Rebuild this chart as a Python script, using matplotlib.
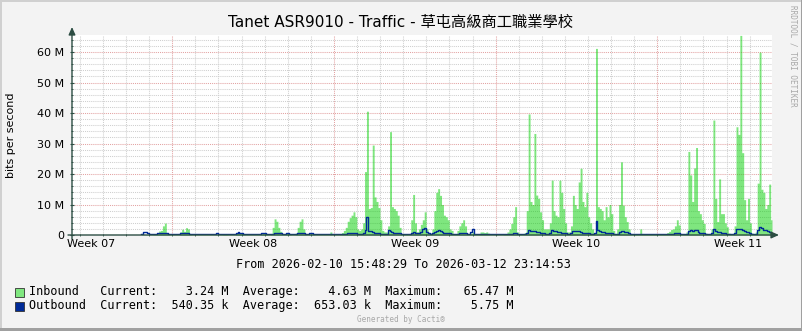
import numpy as np
import matplotlib
matplotlib.use("Agg")
import matplotlib.pyplot as plt
from matplotlib.patches import Rectangle

W, H = 803, 331

title = "Tanet ASR9010 - Traffic - 草屯高級商工職業學校"
period = "From 2026-02-10 15:48:29 To 2026-03-12 23:14:53"
span_hours = 727.41          # length of the window in hours
first_midnight = 8.192       # hours from window start to 2026-02-11 00:00
first_sunday = 104.192       # hours to 2026-02-15 00:00 (week boundary)

# 2-hour averages in Mbit/s, first sample at hour 72, one row per day
start_hour = 72
step_hours = 2
inbound = [
    [0.1, 0.1, 0.1, 0.1, 0.1, 0.1, 0.2, 0.3, 0.8, 1.3, 1.5, 3.0],
    [3.9, 0.6, 0.2, 0.1, 0.1, 0.1, 0.1, 0.1, 1.0, 1.9, 1.2, 2.4],
    [2.0, 0.5, 0.1, 0.1, 0.1, 0.1, 0.1, 0.1, 0.1, 0.1, 0.1, 0.1],
    [0.1, 0.1, 0.1, 0.1, 0.1, 0.1, 0.3, 0.4, 0.3, 0.1, 0.1, 0.1],
    [0.1, 0.5, 0.8, 0.8, 0.5, 0.2, 0.1, 0.1, 0.1, 0.1, 0.1, 0.1],
    [0.1, 0.1, 0.3, 0.5, 0.5, 0.3, 0.1, 0.2, 2.5, 5.3, 4.5, 2.5],
    [1.2, 0.4, 0.2, 0.5, 0.6, 0.3, 0.1, 0.1, 0.6, 2.5, 4.5, 5.3],
    [2.0, 0.5, 0.1, 0.3, 0.4, 0.2, 0.1, 0.1, 0.1, 0.1, 0.1, 0.1],
    [0.1, 0.1, 1.0, 0.1, 0.1, 0.1, 0.1, 0.3, 0.8, 1.5, 2.5, 4.5],
    [5.7, 6.5, 7.6, 6.0, 2.0, 1.5, 2.0, 4.0, 20.8, 40.6, 8.7, 9.0],
    [29.5, 12.5, 11.0, 9.0, 5.0, 1.5, 1.0, 1.0, 3.0, 33.9, 9.3, 8.7],
    [8.0, 6.5, 2.5, 0.5, 0.4, 0.3, 0.3, 0.5, 5.0, 13.3, 4.0, 1.0],
    [2.0, 3.5, 5.0, 7.6, 2.0, 0.8, 0.6, 2.0, 8.0, 14.0, 15.2, 13.0],
    [10.0, 6.5, 6.0, 5.0, 2.0, 1.5, 0.5, 0.4, 1.5, 3.0, 4.0, 5.0],
    [3.0, 0.5, 0.3, 0.6, 1.0, 0.2, 0.1, 0.2, 1.0, 1.0, 0.8, 1.0],
    [0.6, 0.1, 0.1, 0.1, 0.1, 0.1, 0.1, 0.1, 0.2, 0.5, 1.0, 2.0],
    [3.8, 6.0, 9.3, 1.0, 0.3, 0.3, 0.3, 0.8, 8.0, 39.7, 11.0, 10.0],
    [33.3, 13.1, 12.0, 7.6, 5.0, 2.0, 2.0, 2.0, 4.0, 18.0, 8.0, 6.5],
    [6.0, 18.0, 14.0, 8.7, 4.0, 1.0, 1.0, 3.0, 13.0, 10.0, 8.7, 17.4],
    [21.9, 11.0, 9.3, 14.0, 6.0, 4.0, 2.0, 0.5, 61.2, 9.3, 8.7, 8.0],
    [5.0, 9.3, 6.0, 10.0, 7.0, 1.5, 0.5, 2.0, 10.0, 24.0, 9.8, 6.0],
    [4.4, 2.0, 0.5, 0.3, 0.3, 0.3, 0.3, 2.0, 0.5, 0.3, 0.4, 0.3],
    [0.2, 0.2, 0.3, 0.2, 0.2, 0.2, 0.2, 0.2, 0.4, 0.8, 1.2, 1.8],
    [2.0, 3.0, 5.0, 3.3, 0.5, 0.4, 0.4, 1.0, 27.4, 19.7, 11.0, 22.0],
    [28.7, 8.0, 7.0, 5.0, 3.8, 0.6, 0.4, 0.5, 2.0, 37.7, 12.0, 4.4],
    [18.4, 7.0, 7.0, 4.0, 2.7, 0.6, 0.5, 0.5, 3.0, 35.5, 33.0, 65.47],
    [27.0, 11.6, 5.0, 12.0, 4.0, 0.6, 0.5, 1.0, 17.0, 60.0, 15.0, 14.0],
    [8.7, 10.0, 16.7, 5.0],
]
outbound = [
    [0.3, 0.9, 0.9, 0.5, 0.3, 0.3, 0.3, 0.3, 0.5, 0.6, 0.6, 0.7],
    [0.7, 0.5, 0.3, 0.3, 0.3, 0.3, 0.3, 0.3, 0.5, 0.6, 0.6, 0.6],
    [0.6, 0.4, 0.3, 0.3, 0.3, 0.3, 0.3, 0.3, 0.3, 0.3, 0.3, 0.3],
    [0.3, 0.3, 0.3, 0.6, 0.3, 0.3, 0.3, 0.3, 0.3, 0.3, 0.3, 0.3],
    [0.3, 0.7, 0.9, 0.8, 0.5, 0.3, 0.3, 0.3, 0.3, 0.3, 0.3, 0.3],
    [0.3, 0.3, 0.5, 0.7, 0.7, 0.4, 0.3, 0.3, 0.3, 0.5, 0.6, 0.6],
    [0.5, 0.3, 0.3, 0.6, 0.6, 0.3, 0.3, 0.3, 0.3, 0.5, 0.6, 0.7],
    [0.6, 0.4, 0.3, 0.5, 0.6, 0.3, 0.3, 0.3, 0.3, 0.3, 0.3, 0.3],
    [0.3, 0.3, 0.3, 0.3, 0.3, 0.3, 0.3, 0.3, 0.3, 0.4, 0.4, 0.5],
    [0.6, 0.7, 0.8, 0.7, 0.4, 0.4, 0.4, 0.5, 1.5, 5.75, 1.2, 1.2],
    [1.0, 0.8, 0.8, 0.6, 0.4, 0.3, 0.3, 0.4, 1.6, 1.4, 1.0, 0.8],
    [0.7, 0.6, 0.5, 0.4, 0.3, 0.3, 0.3, 0.4, 0.6, 0.9, 0.8, 0.6],
    [0.6, 0.9, 2.0, 2.4, 0.9, 0.5, 0.4, 0.5, 0.9, 1.3, 1.6, 1.2],
    [1.0, 0.8, 0.7, 0.6, 0.5, 0.4, 0.3, 0.3, 0.4, 0.6, 0.7, 0.7],
    [0.6, 0.4, 0.3, 1.0, 1.9, 0.4, 0.3, 0.3, 0.3, 0.3, 0.3, 0.3],
    [0.3, 0.3, 0.3, 0.3, 0.3, 0.3, 0.3, 0.3, 0.3, 0.3, 0.3, 0.3],
    [0.4, 0.5, 0.5, 0.3, 0.3, 0.3, 0.3, 0.3, 0.8, 1.5, 1.4, 1.2],
    [1.2, 1.0, 0.9, 0.8, 0.6, 0.5, 0.4, 0.4, 0.5, 1.5, 1.4, 1.2],
    [1.0, 1.0, 0.8, 0.6, 0.5, 0.4, 0.4, 0.8, 1.2, 1.3, 1.4, 1.2],
    [1.0, 0.8, 0.8, 0.7, 0.5, 0.4, 0.3, 0.5, 4.6, 1.5, 1.2, 1.0],
    [0.9, 0.8, 0.7, 0.6, 0.5, 0.4, 0.3, 0.4, 1.0, 1.3, 1.2, 1.0],
    [0.9, 0.6, 0.4, 0.3, 0.3, 0.3, 0.3, 0.4, 0.3, 0.3, 0.3, 0.3],
    [0.3, 0.3, 0.3, 0.3, 0.3, 0.3, 0.3, 0.3, 0.3, 0.3, 0.3, 0.3],
    [0.4, 0.5, 0.6, 0.5, 0.3, 0.3, 0.3, 0.3, 1.2, 1.6, 1.3, 1.5],
    [1.6, 1.0, 0.8, 0.6, 0.5, 0.3, 0.3, 0.3, 0.8, 2.0, 1.4, 1.0],
    [0.9, 0.8, 0.7, 0.5, 0.4, 0.3, 0.3, 0.3, 0.8, 2.0, 1.9, 2.0],
    [1.8, 1.4, 1.0, 1.0, 0.8, 0.4, 0.3, 0.4, 1.5, 2.6, 2.2, 1.8],
    [1.6, 1.3, 1.0, 0.54],
]

week_labels = ["Week 07", "Week 08", "Week 09", "Week 10", "Week 11"]
in_stats = ["3.24 M", "4.63 M", "65.47 M"]
out_stats = ["540.35 k", "653.03 k", "5.75 M"]

# colours
BG = "#F3F3F3"
AXIS = "#2C4D43"
GRID = "#CFCFCF"
MGRID = "#E3A3A3"
IN_COLOR = "#00CF00"
OUT_COLOR = "#002A97"

plt.rcParams["font.family"] = ["DejaVu Sans", "Noto Sans CJK TC"]

fig = plt.figure(figsize=(W / 100, H / 100), dpi=100, facecolor=BG)
ax = fig.add_axes([72 / W, (H - 235) / H, 700 / W, 200 / H])
ax.set_facecolor("white")

inb = np.concatenate([np.array(r, float) for r in inbound])
outb = np.concatenate([np.array(r, float) for r in outbound])
t = start_hour + step_hours * np.arange(len(inb))
t_edges = np.append(t, span_hours)
inb_e = np.append(inb, inb[-1])
outb_e = np.append(outb, outb[-1])

ymax = 65.6
ax.set_xlim(0, span_hours)
ax.set_ylim(0, ymax)

# grid, rrdtool style dotted lines
dots = (0, (1, 1))
for v in np.arange(2, ymax, 2):
    major = abs(v % 10) < 1e-6
    ax.axhline(v, color=MGRID if major else GRID, lw=0.75, ls=dots, zorder=0)
for h in np.arange(first_midnight, span_hours, 24):
    major = abs((h - first_sunday) % 168) < 1e-6
    ax.axvline(h, color=MGRID if major else GRID, lw=0.75, ls=dots, zorder=0)

ax.fill_between(t_edges, 0, inb_e, step="post", color=IN_COLOR, alpha=0.5,
                lw=0, zorder=2)
ax.plot(t_edges, outb_e, drawstyle="steps-post", color=OUT_COLOR, lw=1.0, zorder=3)

for s in ax.spines.values():
    s.set_visible(False)

# axes with arrows
ax.annotate("", xy=(0, 1 + 8 / 200), xytext=(0, -4 / 200), xycoords="axes fraction",
            arrowprops=dict(arrowstyle="-|>,head_length=0.45,head_width=0.2",
                            color=AXIS, lw=1, shrinkA=0, shrinkB=0), zorder=5)
ax.annotate("", xy=(1 + 7 / 700, 0), xytext=(-4 / 700, 0), xycoords="axes fraction",
            arrowprops=dict(arrowstyle="-|>,head_length=0.45,head_width=0.2",
                            color=AXIS, lw=1, shrinkA=0, shrinkB=0), zorder=5)

# y ticks
yt = np.arange(0, 61, 10)
ax.set_yticks(yt, ["0"] + [f"{v} M" for v in yt[1:]])
ax.set_yticks(np.arange(0, ymax, 2), minor=True)
ax.tick_params(axis="y", which="major", direction="inout", length=3, width=0.8,
               color=AXIS, pad=4.3, labelsize=8)
ax.tick_params(axis="y", which="minor", direction="inout", length=1.5, width=0.6,
               color=AXIS)

# x ticks: labels mid-week, tick marks on day lines
label_pos = first_sunday - 84 + 168 * np.arange(len(week_labels))
ax.set_xticks(label_pos, week_labels)
ax.set_xticks(np.arange(first_midnight, span_hours, 24), minor=True)
ax.tick_params(axis="x", which="major", length=0, pad=3, labelsize=8)
ax.tick_params(axis="x", which="minor", direction="inout", length=2, width=0.6,
               color=AXIS)

fig.text(11 / W, 1 - 135 / H, "bits per second", rotation=90, ha="center",
         va="center", fontsize=8)
fig.text(401 / W, 1 - 22 / H, title, ha="center", va="center", fontsize=11)
fig.text(793 / W, 1 - 5 / H, "RRDTOOL / TOBI OETIKER", rotation=270, ha="center",
         va="top", fontsize=5.5, family="DejaVu Sans Mono", color="#A8A8A8")

mono = dict(family="DejaVu Sans Mono", fontsize=8.5, va="center", ha="left")
fig.text(403 / W, 1 - 264 / H, period, **{**mono, "ha": "center"})
row_in = f"{'Inbound':<10}Current:{in_stats[0]:>10}  Average:{in_stats[1]:>10}  Maximum:{in_stats[2]:>10}"
row_out = f"{'Outbound':<10}Current:{out_stats[0]:>10}  Average:{out_stats[1]:>10}  Maximum:{out_stats[2]:>10}"
fig.text(29 / W, 1 - 292 / H, row_in, **mono)
fig.text(29 / W, 1 - 306 / H, row_out, **mono)
for y, c in [(292, "#80E780"), (306, OUT_COLOR)]:
    fig.add_artist(Rectangle((15 / W, 1 - (y + 4.5) / H), 9 / W, 9 / H,
                             transform=fig.transFigure, facecolor=c,
                             edgecolor="#333333", lw=0.6))
fig.text(401 / W, 1 - 320 / H, "Generated by Cacti®", ha="center", va="center",
         fontsize=5.5, family="DejaVu Sans Mono", color="#A8A8A8")

# canvas shading border
for (x0, y0, w, h, c) in [(0, 0, 2, H, "#D0D0D0"), (0, H - 2, W, 2, "#D0D0D0"),
                          (W - 2, 0, 2, H, "#A0A0A0"), (0, 0, W, 3, "#A0A0A0")]:
    fig.add_artist(Rectangle((x0 / W, y0 / H), w / W, h / H, transform=fig.transFigure,
                             facecolor=c, lw=0))

fig.savefig("out.png", dpi=100, facecolor=BG)
